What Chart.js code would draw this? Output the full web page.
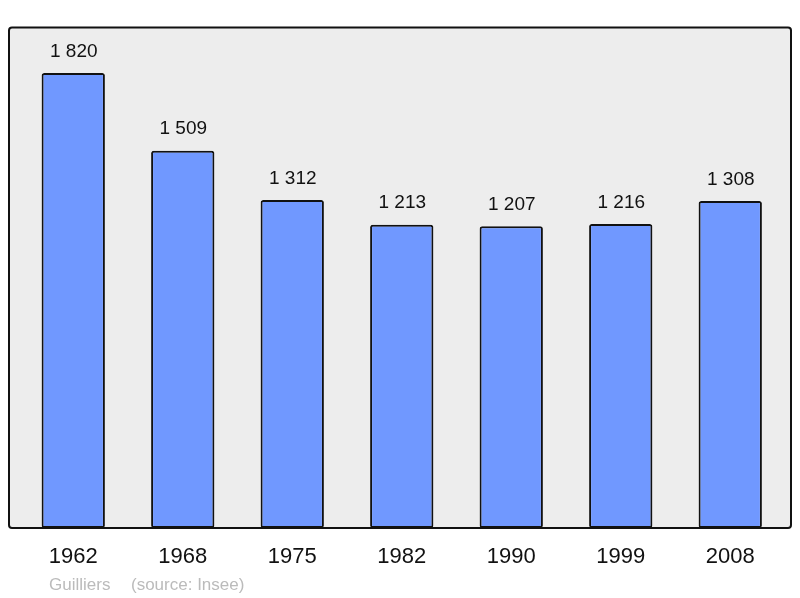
<!DOCTYPE html>
<html>
<head>
<meta charset="utf-8">
<script src="https://cdn.jsdelivr.net/npm/chart.js@4"></script>
<style>
html,body{margin:0;padding:0;background:#fff;}
#wrap{width:800px;height:598px;position:relative;}
</style>
</head>
<body>
<div id="wrap"><canvas id="c" width="800" height="598"></canvas></div>
<script>
const categories = ["1962","1968","1975","1982","1990","1999","2008"];
const population = [1820,1509,1312,1213,1207,1216,1308];
const footerText = ["Guilliers", "(source: Insee)"];

function fmt(v){ return String(v).replace(/\B(?=(\d{3})+(?!\d))/g, " "); }

const framePlugin = {
  id: 'frame',
  beforeDraw(chart){
    const ctx = chart.ctx;
    ctx.save();
    ctx.beginPath();
    if (ctx.roundRect) ctx.roundRect(9, 27.5, 782, 500.5, 3); else ctx.rect(9, 27.5, 782, 500.5);
    ctx.fillStyle = '#ededed';
    ctx.fill();
    ctx.restore();
  },
  afterDatasetsDraw(chart){
    const ctx = chart.ctx;
    ctx.save();
    ctx.beginPath();
    if (ctx.roundRect) ctx.roundRect(9, 27.5, 782, 500.5, 3); else ctx.rect(9, 27.5, 782, 500.5);
    ctx.lineWidth = 2;
    ctx.strokeStyle = '#111';
    ctx.stroke();
    const meta = chart.getDatasetMeta(0);
    ctx.fillStyle = '#111';
    ctx.font = '19px "Liberation Sans", Arial, sans-serif';
    ctx.textAlign = 'center';
    ctx.textBaseline = 'middle';
    meta.data.forEach((bar, i) => {
      ctx.fillText(fmt(population[i]), bar.x + 0.5, bar.y - 21.5);
    });
    ctx.fillStyle = '#bbbbbb';
    ctx.font = '17px "Liberation Sans", Arial, sans-serif';
    ctx.textAlign = 'left';
    ctx.fillText(footerText[0], 49, 585);
    ctx.fillText(footerText[1], 131, 585);
    ctx.restore();
  }
};

new Chart(document.getElementById('c'), {
  type: 'bar',
  data: {
    labels: categories,
    datasets: [{
      data: population,
      backgroundColor: '#7098ff',
      borderColor: '#111',
      borderWidth: 2,
      borderRadius: 2.5,
      borderSkipped: false,
      categoryPercentage: 1,
      barPercentage: 0.578
    }]
  },
  options: {
    responsive: false,
    animation: false,
    devicePixelRatio: 1,
    layout: { padding: { left: 18.5, right: 15, top: 28, bottom: 0 } },
    plugins: { legend: { display: false }, tooltip: { enabled: false } },
    scales: {
      y: { display: false, min: 0, max: 2000 },
      x: {
        grid: { display: false, drawTicks: false },
        border: { display: false },
        ticks: {
          color: '#111',
          font: { family: '"Liberation Sans", Arial, sans-serif', size: 22 },
          padding: 16
        },
        afterFit(scale){ scale.height = 70; }
      }
    }
  },
  plugins: [framePlugin]
});
</script>
</body>
</html>
